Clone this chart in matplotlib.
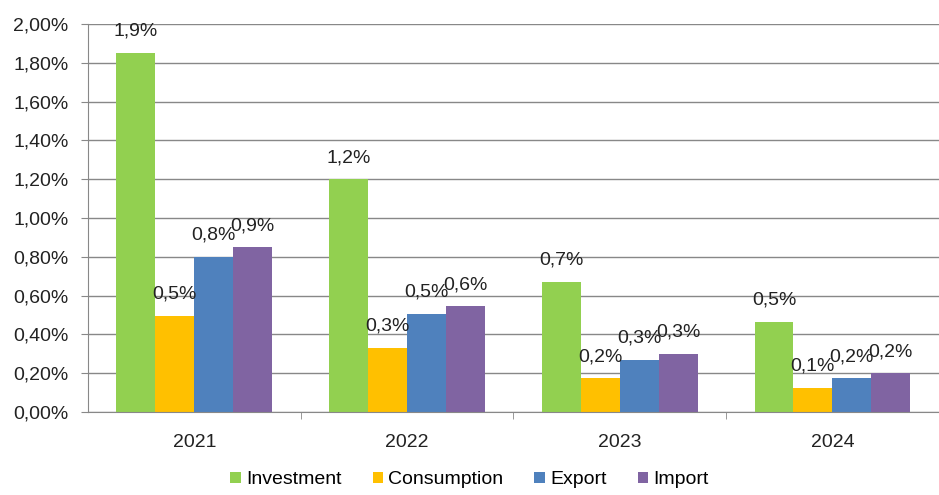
import numpy as np
import matplotlib.pyplot as plt

years = ["2021", "2022", "2023", "2024"]
series = ["Investment", "Consumption", "Export", "Import"]
investment = [1.85, 1.20, 0.67, 0.465]
consumption = [0.495, 0.33, 0.175, 0.125]
export = [0.80, 0.505, 0.27, 0.175]
imports = [0.85, 0.545, 0.30, 0.20]
labels_inv = ["1,9%", "1,2%", "0,7%", "0,5%"]
labels_con = ["0,5%", "0,3%", "0,2%", "0,1%"]
labels_exp = ["0,8%", "0,5%", "0,3%", "0,2%"]
labels_imp = ["0,9%", "0,6%", "0,3%", "0,2%"]
yticks = [0.0, 0.2, 0.4, 0.6, 0.8, 1.0, 1.2, 1.4, 1.6, 1.8, 2.0]

colors = ["#92D050", "#FFC000", "#4F81BD", "#8064A2"]
data = [investment, consumption, export, imports]
labels = [labels_inv, labels_con, labels_exp, labels_imp]

plt.rcParams['font.family'] = ['Liberation Sans', 'DejaVu Sans']
fs = 14
fig = plt.figure(figsize=(9.39, 4.95), dpi=100)
ax = fig.add_axes([0.0937, 0.1677, 0.906, 0.784])

x = np.arange(len(years))
w = 0.183
for i, (vals, c, labs) in enumerate(zip(data, colors, labels)):
    pos = x + (i - 1.5) * w
    ax.bar(pos, vals, width=w, color=c, label=series[i], zorder=3)
    for p, v, t in zip(pos, vals, labs):
        ax.annotate(t, (p, v), xytext=(0, 15.5), textcoords="offset points",
                    ha="center", va="center", fontsize=fs, color="#222222", zorder=4)

ax.set_xlim(-0.5, 3.5)
ax.set_ylim(0, 2.0)
ax.set_yticks(yticks)
ax.set_yticklabels([("%.2f%%" % v).replace(".", ",") for v in yticks], fontsize=fs, color="#222222")
ax.set_xticks(x)
ax.set_xticklabels(years, fontsize=fs, color="#222222")
ax.set_xticks([0.5, 1.5, 2.5], minor=True)
ax.tick_params(axis="x", which="major", length=0, pad=16)
ax.tick_params(axis="x", which="minor", length=5, color="#888888")
ax.tick_params(axis="y", length=5, color="#888888", pad=9)
ax.grid(axis="y", color="#888888", linewidth=1, zorder=0)
for s in ["top", "right"]:
    ax.spines[s].set_visible(False)
for s in ["left", "bottom"]:
    ax.spines[s].set_color("#888888")
    ax.spines[s].set_zorder(5)

fig.legend(loc="lower center", bbox_to_anchor=(0.5, -0.022), ncol=4, frameon=False,
           fontsize=fs, handlelength=0.55, handleheight=0.55, handletextpad=0.25,
           columnspacing=1.6)

fig.savefig("out.png", dpi=100)
